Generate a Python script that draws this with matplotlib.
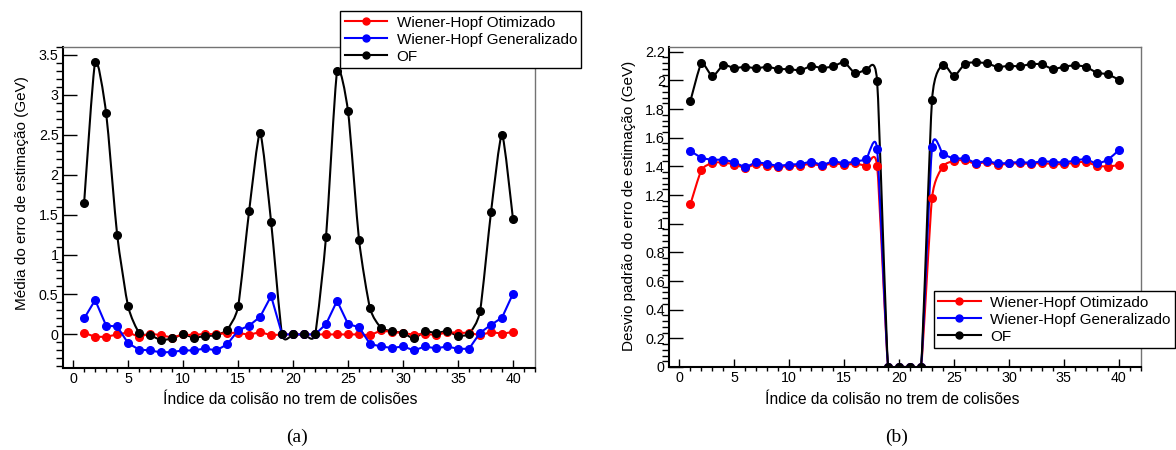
import numpy as np
import matplotlib
matplotlib.use("Agg")
import matplotlib.pyplot as plt
from matplotlib.path import Path
from matplotlib.patches import PathPatch
from matplotlib.lines import Line2D
from matplotlib.ticker import MultipleLocator, FormatStrFormatter

plt.rcParams["font.family"] = ["Liberation Sans", "DejaVu Sans"]

collision = list(range(1, 41))

# (a) mean of the estimation error
mean_wh_opt = [0.02, -0.03, -0.03, 0.0, 0.025, -0.03, 0.01, -0.01, -0.04, 0.0,
               -0.01, 0.01, 0.0, 0.02, 0.02, -0.005, 0.03, -0.01, 0.0, 0.0,
               0.0, 0.0, 0.0, 0.0, 0.0, 0.0, -0.01, 0.05, 0.03, 0.02,
               -0.005, 0.01, -0.01, 0.03, 0.02, 0.02, -0.01, 0.03, 0.01, 0.03]
mean_wh_gen = [0.20, 0.43, 0.11, 0.10, -0.11, -0.19, -0.20, -0.225, -0.22, -0.20,
               -0.20, -0.175, -0.20, -0.125, 0.05, 0.11, 0.22, 0.48, 0.0, 0.0,
               0.0, 0.0, 0.13, 0.42, 0.13, 0.09, -0.12, -0.15, -0.17, -0.15,
               -0.20, -0.15, -0.175, -0.15, -0.18, -0.18, 0.02, 0.12, 0.21, 0.51]
mean_of = [1.65, 3.41, 2.77, 1.25, 0.35, 0.02, -0.01, -0.07, -0.05, 0.0,
           -0.04, -0.02, -0.01, 0.06, 0.35, 1.54, 2.52, 1.41, 0.0, 0.0,
           0.0, 0.0, 1.225, 3.29, 2.79, 1.18, 0.325, 0.083, 0.04, 0.017,
           -0.05, 0.04, 0.017, 0.04, -0.017, 0.01, 0.29, 1.53, 2.50, 1.44]

# (b) standard deviation of the estimation error
std_wh_opt = [1.136, 1.374, 1.425, 1.427, 1.413, 1.39, 1.416, 1.406, 1.395, 1.404,
              1.404, 1.42, 1.402, 1.425, 1.409, 1.42, 1.404, 1.404, 0.0, 0.0,
              0.0, 0.0, 1.18, 1.399, 1.439, 1.443, 1.416, 1.432, 1.409, 1.42,
              1.42, 1.418, 1.423, 1.416, 1.416, 1.425, 1.432, 1.404, 1.399, 1.409]
std_wh_gen = [1.509, 1.46, 1.446, 1.446, 1.427, 1.397, 1.427, 1.418, 1.404, 1.413,
              1.416, 1.432, 1.411, 1.434, 1.423, 1.434, 1.45, 1.52, 0.0, 0.0,
              0.0, 0.0, 1.532, 1.485, 1.455, 1.455, 1.425, 1.437, 1.42, 1.425,
              1.43, 1.425, 1.434, 1.432, 1.427, 1.441, 1.45, 1.42, 1.446, 1.513]
std_of = [1.856, 2.119, 2.028, 2.107, 2.086, 2.095, 2.084, 2.095, 2.079, 2.079,
          2.07, 2.10, 2.086, 2.098, 2.126, 2.049, 2.07, 1.993, 0.0, 0.0,
          0.0, 0.0, 1.863, 2.11, 2.03, 2.116, 2.126, 2.119, 2.093, 2.102,
          2.098, 2.114, 2.112, 2.079, 2.095, 2.105, 2.095, 2.054, 2.042, 2.005]

labels = ["Wiener-Hopf Otimizado", "Wiener-Hopf Generalizado", "OF"]
colors = ["red", "blue", "black"]


def smooth_path(x, y, k=0.6):
    # cardinal curve through the points, drawn as Bezier segments
    pts = np.column_stack([x, y]).astype(float)
    ext = np.vstack([pts[0], pts, pts[-1]])
    verts = [pts[0]]
    codes = [Path.MOVETO]
    for i in range(len(pts) - 1):
        p0, p1, p2, p3 = ext[i], ext[i + 1], ext[i + 2], ext[i + 3]
        verts += [p1 + k * (p2 - p0) / 6, p2 - k * (p3 - p1) / 6, p2]
        codes += [Path.CURVE4] * 3
    return Path(verts, codes)


def draw_series(ax, y, color, smooth):
    if smooth:
        ax.add_patch(PathPatch(smooth_path(collision, y), fill=False,
                               edgecolor=color, lw=1.5))
        ax.plot(collision, y, "o", color=color, ms=5.5)
    else:
        ax.plot(collision, y, "-o", color=color, ms=5.5, lw=1.5)


def style_axes(ax, ymajor, yminor, fmt):
    ax.set_xlim(-0.95, 42)
    ax.xaxis.set_major_locator(MultipleLocator(5))
    ax.xaxis.set_minor_locator(MultipleLocator(1))
    ax.yaxis.set_major_locator(MultipleLocator(ymajor))
    ax.yaxis.set_minor_locator(MultipleLocator(yminor))
    ax.yaxis.set_major_formatter(FormatStrFormatter(fmt))
    ax.tick_params(direction="in", labelsize=10.3, pad=3)
    ax.tick_params(axis="y", which="major", length=10, width=1)
    ax.tick_params(axis="y", which="minor", length=5, width=1)
    ax.tick_params(axis="x", which="major", length=6, width=1)
    ax.tick_params(axis="x", which="minor", length=3, width=1)
    for s in ["left", "bottom"]:
        ax.spines[s].set_linewidth(1.5)
        ax.spines[s].set_color("black")
    for s in ["top", "right"]:
        ax.spines[s].set_linewidth(1.0)
        ax.spines[s].set_color("0.45")


W, H = 1176, 450
fig = plt.figure(figsize=(W / 100, H / 100), dpi=100)

ax1 = fig.add_axes([62.7 / W, 1 - 368 / H, 472.3 / W, (368 - 46.7) / H])
draw_series(ax1, mean_wh_opt, "red", False)
draw_series(ax1, mean_wh_gen, "blue", False)
draw_series(ax1, mean_of, "black", True)
ax1.set_ylim(-0.42, 3.6)
style_axes(ax1, 0.5, 0.1, "%g")

ax2 = fig.add_axes([669 / W, 1 - 367 / H, 471.7 / W, (367 - 46.7) / H])
draw_series(ax2, std_wh_opt, "red", True)
draw_series(ax2, std_wh_gen, "blue", True)
draw_series(ax2, std_of, "black", True)
ax2.set_ylim(0, 2.235)
style_axes(ax2, 0.2, 0.04, "%g")

handles = [Line2D([], [], color=c, marker="o", ms=5, lw=1.5) for c in colors]
leg_kw = dict(fontsize=11, frameon=True, fancybox=False,
              edgecolor="black", framealpha=1, borderaxespad=0,
              handlelength=2.8, handletextpad=0.6, labelspacing=0.2,
              borderpad=0.3)
leg1 = fig.legend(handles, labels, loc="upper left",
                  bbox_to_anchor=(340 / W, 1 - 11 / H), **leg_kw)
leg2 = fig.legend(handles, labels, loc="upper right",
                  bbox_to_anchor=(1175 / W, 1 - 291 / H), **leg_kw)
for leg in (leg1, leg2):
    leg.get_frame().set_linewidth(1.0)

fig.text(22 / W, 1 - 193 / H, "Média do erro de estimação (GeV)",
         rotation=90, ha="center", va="center", fontsize=11)
fig.text(629 / W, 1 - 206 / H, "Desvio padrão do erro de estimação (GeV)",
         rotation=90, ha="center", va="center", fontsize=11)
fig.text(290 / W, 1 - 399 / H, "Índice da colisão no trem de colisões",
         ha="center", va="center", fontsize=11.2)
fig.text(892 / W, 1 - 399 / H, "Índice da colisão no trem de colisões",
         ha="center", va="center", fontsize=11.2)
fig.text(297 / W, 1 - 437 / H, "(a)", ha="center", va="center",
         fontsize=14, family="Liberation Serif")
fig.text(897 / W, 1 - 437 / H, "(b)", ha="center", va="center",
         fontsize=14, family="Liberation Serif")

fig.savefig("out.png", dpi=100)
